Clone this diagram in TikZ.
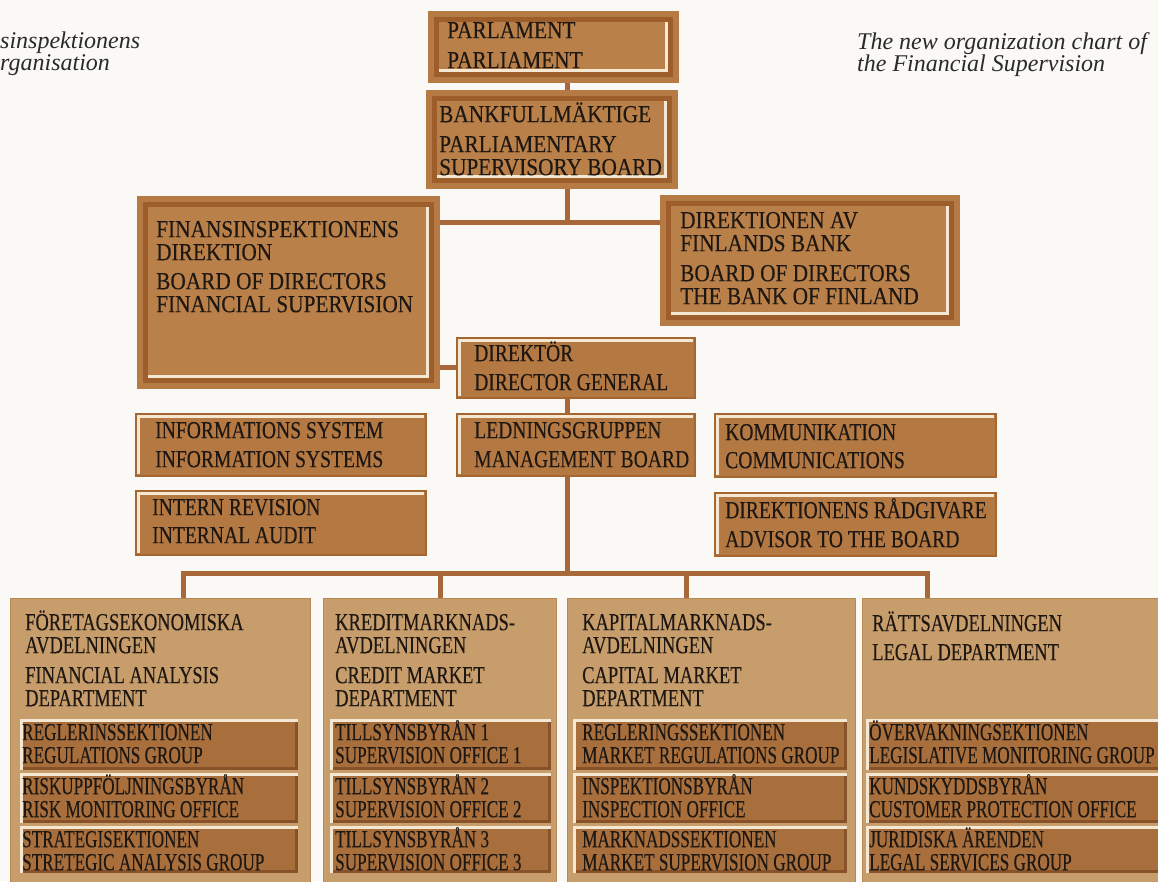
\documentclass[tikz,border=0pt]{standalone}
\usepackage{fontspec}
\setmainfont{Liberation Serif}
\newfontfamily\ftopfam{Liberation Serif}[FakeStretch=0.87,FakeBold=0.3]
\newfontfamily\fmidfam{Liberation Serif}[FakeStretch=0.80,FakeBold=0.3]
\newfontfamily\fcolfam{Liberation Serif}[FakeStretch=0.755,FakeBold=0.3]
\newfontfamily\fsubfam{Liberation Serif}[FakeStretch=0.70,FakeBold=0.3]
\newfontfamily\fhdrfam{Liberation Serif}
\newcommand\ftopf{\ftopfam\fontsize{24.5}{23}\selectfont\lineskiplimit=-30pt\relax}
\newcommand\fmidf{\fmidfam\fontsize{24.5}{23}\selectfont\lineskiplimit=-30pt\relax}
\newcommand\fcolf{\fcolfam\fontsize{24.5}{23}\selectfont\lineskiplimit=-30pt\relax}
\newcommand\fsubf{\fsubfam\fontsize{24.5}{23}\selectfont\lineskiplimit=-30pt\relax}
\newcommand\fhdrf{\fhdrfam\itshape\fontsize{24}{22}\selectfont\lineskiplimit=-30pt\relax}
\newcommand\tstr{\rule{0pt}{22pt}}
\definecolor{bgc}{HTML}{FAF9F6}
\definecolor{topout}{HTML}{B67A44}
\definecolor{topdark}{HTML}{9E5E2C}
\definecolor{topin}{HTML}{B98049}
\definecolor{cream}{HTML}{F4E8D2}
\definecolor{midfill}{HTML}{B47943}
\definecolor{midedge}{HTML}{A5672F}
\definecolor{colfill}{HTML}{C89D6C}
\definecolor{coledge}{HTML}{B88955}
\definecolor{subfill}{HTML}{A86F3D}
\definecolor{subdark}{HTML}{87522A}
\definecolor{connc}{HTML}{A8683A}
\definecolor{txtc}{HTML}{1F1812}
\definecolor{hdrc}{HTML}{2A2A2A}
\newcommand\mkbox[6]{\node[#2, anchor=north west, inner sep=0pt, minimum width={(#5-#3)*1pt}, minimum height={(#6-#4)*1pt}] (#1) at (#3,#4) {};}
\begin{document}
\begin{tikzpicture}[x=1pt,y=-1pt,
  topbox/.style={fill=topout, path picture={
    \coordinate (pa) at (path picture bounding box.north west);
    \coordinate (pb) at (path picture bounding box.south east);
    \coordinate (pc) at (path picture bounding box.north east);
    \coordinate (pd) at (path picture bounding box.south west);
    \draw[topdark, line width=5pt] ([shift={(8.5pt,-8.5pt)}]pa) rectangle ([shift={(-8.5pt,8.5pt)}]pb);
    \fill[topin] ([shift={(11pt,-11pt)}]pa) rectangle ([shift={(-11pt,11pt)}]pb);
    \draw[cream, line width=3pt] ([shift={(-12.5pt,-11pt)}]pc) -- ([shift={(-12.5pt,12.5pt)}]pb) -- ([shift={(11pt,12.5pt)}]pd);
  }},
  midbox/.style={fill=midfill, draw=midedge, line width=1.5pt, path picture={
    \coordinate (pa) at (path picture bounding box.north west);
    \coordinate (pc) at (path picture bounding box.north east);
    \coordinate (pd) at (path picture bounding box.south west);
    \draw[cream, line width=3pt] ([shift={(3pt,2pt)}]pd) -- ([shift={(3pt,-3pt)}]pa) -- ([shift={(-2pt,-3pt)}]pc);
  }},
  subbox/.style={fill=subfill, path picture={
    \coordinate (pa) at (path picture bounding box.north west);
    \coordinate (pb) at (path picture bounding box.south east);
    \coordinate (pc) at (path picture bounding box.north east);
    \coordinate (pd) at (path picture bounding box.south west);
    \draw[subdark, line width=3pt] ([shift={(0pt,1.5pt)}]pd) -- ([shift={(-1.5pt,1.5pt)}]pb) -- ([shift={(-1.5pt,0pt)}]pc);
    \draw[cream, line width=2.5pt] ([shift={(1.25pt,0pt)}]pd) -- ([shift={(1.25pt,-1.25pt)}]pa) -- ([shift={(0pt,-1.25pt)}]pc);
  }},
  colbox/.style={fill=colfill, draw=coledge, line width=1pt},
  conn/.style={draw=connc, line width=5pt},
  lbl/.style={anchor=north west, inner sep=0pt, align=left, text=txtc},
  hdr/.style={anchor=north west, inner sep=0pt, align=left, text=hdrc, font=\fhdrf}
]
\useasboundingbox (0,0) rectangle (1158,881);
\clip (0,0) rectangle (1158,881);
\fill[bgc] (0,0) rectangle (1158,881);

% headers
\node[hdr] (hl) at (0,26) {\tstr sinspektionens\\rganisation};
\node[hdr] (hr) at (857,27) {\tstr The new organization chart of\\the Financial Supervision};

% top boxes
\mkbox{parl}{topbox}{428}{11}{679}{83}
\mkbox{bank}{topbox}{426}{90}{678}{189}
\mkbox{fin}{topbox}{137}{196}{440}{389}
\mkbox{dbank}{topbox}{660}{195}{960}{326}
% middle boxes
\mkbox{dir}{midbox}{456}{337}{694}{397}
\mkbox{ledn}{midbox}{456}{413}{694}{475}
\mkbox{info}{midbox}{135}{413}{425}{475}
\mkbox{intern}{midbox}{135}{490}{425}{554}
\mkbox{komm}{midbox}{714}{413}{995}{476}
\mkbox{adv}{midbox}{714}{492}{995}{555}
% columns
\mkbox{c1}{colbox}{10}{598}{310}{900}
\mkbox{c2}{colbox}{323}{598}{556}{900}
\mkbox{c3}{colbox}{567}{598}{855}{900}
\mkbox{c4}{colbox}{862}{598}{1180}{900}
% sub boxes
\mkbox{s11}{subbox}{20}{719}{298}{770}
\mkbox{s12}{subbox}{20}{773}{298}{823}
\mkbox{s13}{subbox}{20}{826}{298}{873}
\mkbox{s21}{subbox}{330}{719}{551}{770}
\mkbox{s22}{subbox}{330}{773}{551}{823}
\mkbox{s23}{subbox}{330}{826}{551}{873}
\mkbox{s31}{subbox}{573}{719}{847}{770}
\mkbox{s32}{subbox}{573}{773}{847}{823}
\mkbox{s33}{subbox}{573}{826}{847}{873}
\mkbox{s41}{subbox}{866}{719}{1180}{770}
\mkbox{s42}{subbox}{866}{773}{1180}{823}
\mkbox{s43}{subbox}{866}{826}{1180}{873}

% texts
\node[lbl, font=\ftopf] (parl-t) at (447,16) {\tstr PARLAMENT\\[7pt]PARLIAMENT};
\node[lbl, font=\ftopf] (bank-t) at (439,100) {\tstr BANKFULLMÄKTIGE\\[7pt]PARLIAMENTARY\\SUPERVISORY BOARD};
\node[lbl, font=\ftopf] (fin-t) at (156,215) {\tstr FINANSINSPEKTIONENS\\DIREKTION\\[6pt]BOARD OF DIRECTORS\\FINANCIAL SUPERVISION};
\node[lbl, font=\ftopf] (dbank-t) at (680,206) {\tstr DIREKTIONEN AV\\FINLANDS BANK\\[7pt]BOARD OF DIRECTORS\\THE BANK OF FINLAND};
\node[lbl, font=\fmidf] (dir-t) at (474,339) {\tstr DIREKTÖR\\[6pt]DIRECTOR GENERAL};
\node[lbl, font=\fmidf] (ledn-t) at (474,416) {\tstr LEDNINGSGRUPPEN\\[6pt]MANAGEMENT BOARD};
\node[lbl, font=\fmidf] (info-t) at (155,416) {\tstr INFORMATIONS SYSTEM\\[6pt]INFORMATION SYSTEMS};
\node[lbl, font=\fmidf] (intern-t) at (152,493) {\tstr INTERN REVISION\\[5pt]INTERNAL AUDIT};
\node[lbl, font=\fmidf] (komm-t) at (725,418) {\tstr KOMMUNIKATION\\[5pt]COMMUNICATIONS};
\node[lbl, font=\fmidf] (adv-t) at (725,496) {\tstr DIREKTIONENS RÅDGIVARE\\[6pt]ADVISOR TO THE BOARD};
\node[lbl, font=\fcolf] (c1-t) at (25,608) {\tstr FÖRETAGSEKONOMISKA\\AVDELNINGEN\\[7pt]FINANCIAL ANALYSIS\\DEPARTMENT};
\node[lbl, font=\fcolf] (c2-t) at (335,608) {\tstr KREDITMARKNADS-\\AVDELNINGEN\\[7pt]CREDIT MARKET\\DEPARTMENT};
\node[lbl, font=\fcolf] (c3-t) at (582,608) {\tstr KAPITALMARKNADS-\\AVDELNINGEN\\[7pt]CAPITAL MARKET\\DEPARTMENT};
\node[lbl, font=\fcolf] (c4-t) at (872,609) {\tstr RÄTTSAVDELNINGEN\\[6pt]LEGAL DEPARTMENT};

\node[lbl, font=\fsubf] (s11-t) at (22,718) {\tstr REGLERINSSEKTIONEN\\REGULATIONS GROUP};
\node[lbl, font=\fsubf] (s12-t) at (22,772) {\tstr RISKUPPFÖLJNINGSBYRÅN\\RISK MONITORING OFFICE};
\node[lbl, font=\fsubf] (s13-t) at (22,825) {\tstr STRATEGISEKTIONEN\\STRETEGIC ANALYSIS GROUP};
\node[lbl, font=\fsubf] (s21-t) at (335,718) {\tstr TILLSYNSBYRÅN 1\\SUPERVISION OFFICE 1};
\node[lbl, font=\fsubf] (s22-t) at (335,772) {\tstr TILLSYNSBYRÅN 2\\SUPERVISION OFFICE 2};
\node[lbl, font=\fsubf] (s23-t) at (335,825) {\tstr TILLSYNSBYRÅN 3\\SUPERVISION OFFICE 3};
\node[lbl, font=\fsubf] (s31-t) at (582,718) {\tstr REGLERINGSSEKTIONEN\\MARKET REGULATIONS GROUP};
\node[lbl, font=\fsubf] (s32-t) at (582,772) {\tstr INSPEKTIONSBYRÅN\\INSPECTION OFFICE};
\node[lbl, font=\fsubf] (s33-t) at (582,825) {\tstr MARKNADSSEKTIONEN\\MARKET SUPERVISION GROUP};
\node[lbl, font=\fsubf] (s41-t) at (869,718) {\tstr ÖVERVAKNINGSEKTIONEN\\LEGISLATIVE MONITORING GROUP};
\node[lbl, font=\fsubf] (s42-t) at (869,772) {\tstr KUNDSKYDDSBYRÅN\\CUSTOMER PROTECTION OFFICE};
\node[lbl, font=\fsubf] (s43-t) at (869,825) {\tstr JURIDISKA ÄRENDEN\\LEGAL SERVICES GROUP};

% connectors
\coordinate (tk) at (567,0);
\coordinate (hub) at (567,222);
\coordinate (bus) at (567,573);
\coordinate (d1) at (183,598);
\coordinate (d2) at (440,598);
\coordinate (d3) at (686,598);
\coordinate (d4) at (927,598);
\draw[conn] (parl.south -| tk) -- (bank.north -| tk);
\draw[conn] (bank.south -| tk) -- (hub);
\draw[conn] (fin.east |- hub) -- (dbank.west |- hub);
\draw[conn] (fin.east |- dir.west) -- (dir.west);
\draw[conn] (dir.south -| tk) -- (ledn.north -| tk);
\draw[conn] (ledn.south -| tk) -- (bus);
\draw[conn, line join=miter] (d1) |- (d4 |- bus) -- (d4);
\draw[conn] (d2) -- (d2 |- bus);
\draw[conn] (d3) -- (d3 |- bus);
\end{tikzpicture}
\end{document}
